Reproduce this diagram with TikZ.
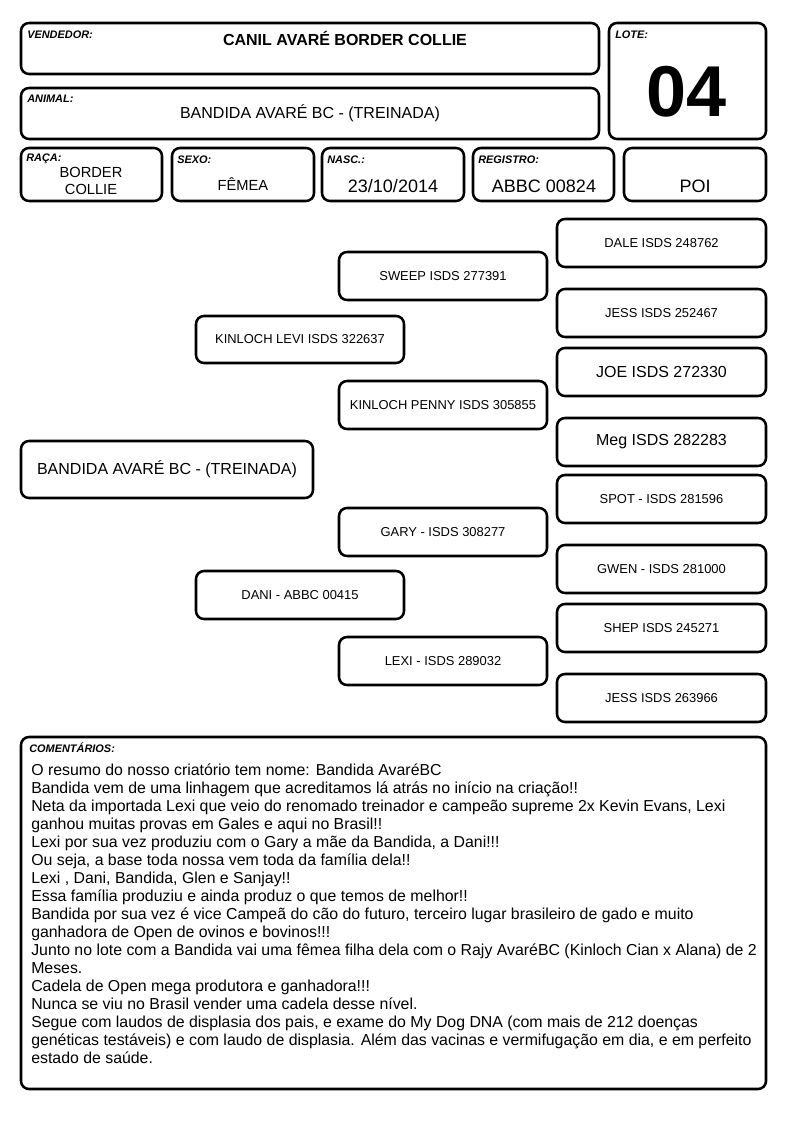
\documentclass[tikz,border=0pt]{standalone}
\usepackage{fontspec}
\setmainfont{Liberation Sans}
\begin{document}
\begin{tikzpicture}[x=0.75pt,y=-0.75pt,
  boxline/.style={line width=1.9pt,rounded corners=6pt},
  lbl/.style={font=\bfseries\itshape\fontsize{8.2}{9}\selectfont,anchor=west,inner sep=0pt},
  ped/.style={font=\fontsize{9.7}{11}\selectfont,inner sep=0pt},
  pedbig/.style={font=\fontsize{12}{14}\selectfont,inner sep=0pt},
  val/.style={font=\fontsize{12}{14}\selectfont,inner sep=0pt}]
\useasboundingbox (0,0) rectangle (794,1123);
\newcommand\pbox[7][ped]{\draw[boxline] (#3,#4) rectangle (#5,#6);
  \node[#1] (#2) at ({(#3+#5)/2},{(#4+#6)/2}) {#7};}
% header
\draw[boxline] (21,23) rectangle (599,74);
\node[lbl] (lv) at (27,35) {VENDEDOR:};
\node[font=\bfseries\fontsize{12}{14}\selectfont,inner sep=0pt] (vend) at (345,38) {CANIL AVARÉ BORDER COLLIE};
\draw[boxline] (21,88) rectangle (599,139);
\node[lbl] (la) at (27,99) {ANIMAL:};
\node[val] (anim) at (310,113) {BANDIDA AVARÉ BC - (TREINADA)};
\draw[boxline] (609,23) rectangle (766,139);
\node[lbl] (ll) at (615,35) {LOTE:};
\node[font=\bfseries\fontsize{54}{60}\selectfont,inner sep=0pt] (lote) at (687,92) {04};
% row
\draw[boxline] (21,148) rectangle (162,201);
\node[lbl] (lr) at (26,159) {RAÇA:};
\node[font=\fontsize{11}{12.5}\selectfont,align=center,inner sep=0pt] (raca) at (91,181) {BORDER\\COLLIE};
\draw[boxline] (172,148) rectangle (314,201);
\node[lbl] (ls) at (177,160) {SEXO:};
\node[font=\fontsize{11}{13}\selectfont,inner sep=0pt] (sexo) at (243,184) {FÊMEA};
\draw[boxline] (322,148) rectangle (464,201);
\node[lbl] (ln) at (327,160) {NASC.:};
\node[font=\fontsize{13.5}{15}\selectfont,inner sep=0pt] (nasc) at (393,186) {23/10/2014};
\draw[boxline] (473,148) rectangle (614,201);
\node[lbl] (lreg) at (478,160) {REGISTRO:};
\node[font=\fontsize{13.5}{15}\selectfont,inner sep=0pt] (reg) at (544,186) {ABBC 00824};
\draw[boxline] (624,148) rectangle (766,201);
\node[font=\fontsize{13.5}{15}\selectfont,inner sep=0pt] (poi) at (695,186) {POI};
% pedigree
\pbox[pedbig]{bandida}{21}{441}{313}{498}{BANDIDA AVARÉ BC - (TREINADA)}
\pbox{levi}{196}{316}{404}{363}{KINLOCH LEVI ISDS 322637}
\pbox{dani}{196}{571}{404}{619}{DANI - ABBC 00415}
\pbox{sweep}{339}{252}{547}{300}{SWEEP ISDS 277391}
\pbox{penny}{339}{381}{547}{429}{KINLOCH PENNY ISDS 305855}
\pbox{gary}{339}{508}{547}{556}{GARY - ISDS 308277}
\pbox{lexi}{339}{637}{547}{685}{LEXI - ISDS 289032}
\pbox{dale}{557}{219}{766}{267}{DALE ISDS 248762}
\pbox{jessa}{557}{289}{766}{337}{JESS ISDS 252467}
\pbox[pedbig]{joe}{557}{348}{766}{396}{JOE ISDS 272330}
\pbox[pedbig]{meg}{557}{418}{766}{466}{Meg ISDS 282283}
\pbox{spot}{557}{475}{766}{523}{SPOT - ISDS 281596}
\pbox{gwen}{557}{545}{766}{593}{GWEN - ISDS 281000}
\pbox{shep}{557}{604}{766}{652}{SHEP ISDS 245271}
\pbox{jessb}{557}{674}{766}{722}{JESS ISDS 263966}
% comments
\draw[boxline] (21,737) rectangle (766,1089);
\node[lbl] (lc) at (29,748) {COMENTÁRIOS:};
\node[font=\fontsize{11.9}{13.5}\selectfont,align=left,anchor=north west,inner sep=0pt] (com) at (31,764) {%
O resumo do nosso criatório tem nome: Bandida AvaréBC\\
Bandida vem de uma linhagem que acreditamos lá atrás no início na criação!!\\
Neta da importada Lexi que veio do renomado treinador e campeão supreme 2x Kevin Evans, Lexi\\
ganhou muitas provas em Gales e aqui no Brasil!!\\
Lexi por sua vez produziu com o Gary a mãe da Bandida, a Dani!!!\\
Ou seja, a base toda nossa vem toda da família dela!!\\
Lexi , Dani, Bandida, Glen e Sanjay!!\\
Essa família produziu e ainda produz o que temos de melhor!!\\
Bandida por sua vez é vice Campeã do cão do futuro, terceiro lugar brasileiro de gado e muito\\
ganhadora de Open de ovinos e bovinos!!!\\
Junto no lote com a Bandida vai uma fêmea filha dela com o Rajy AvaréBC (Kinloch Cian x Alana) de 2\\
Meses.\\
Cadela de Open mega produtora e ganhadora!!!\\
Nunca se viu no Brasil vender uma cadela desse nível.\\
Segue com laudos de displasia dos pais, e exame do My Dog DNA (com mais de 212 doenças\\
genéticas testáveis) e com laudo de displasia. Além das vacinas e vermifugação em dia, e em perfeito\\
estado de saúde.};
\end{tikzpicture}
\end{document}
